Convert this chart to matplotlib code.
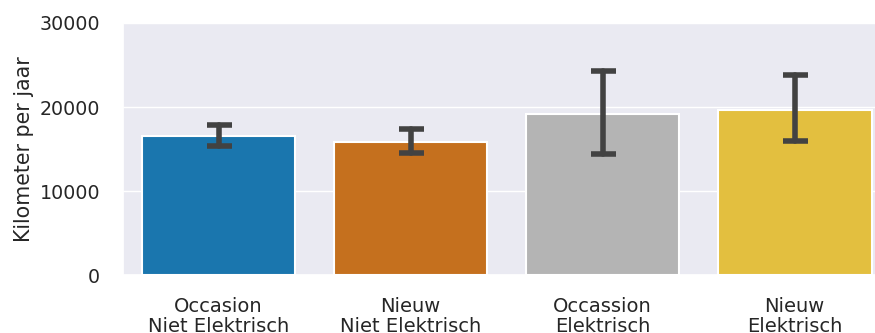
import matplotlib
matplotlib.use("Agg")
import matplotlib.pyplot as plt
import seaborn as sns

categories = ["Occasion\nNiet Elektrisch", "Nieuw\nNiet Elektrisch",
              "Occassion\nElektrisch", "Nieuw\nElektrisch"]
km_mean = [16500, 15800, 19200, 19700]
err_low = [15300, 14550, 14400, 15950]
err_high = [17900, 17350, 24300, 23750]
colors = ["#1a76ae", "#c5701e", "#b4b4b4", "#e3bf3f"]

sns.set_theme(style="darkgrid")
plt.rcParams['font.family'] = ['DejaVu Sans']

fig = plt.figure(figsize=(8.75, 3.33), dpi=100)
ax = fig.add_axes([0.140, 0.174, 0.878, 0.757])

x = list(range(len(categories)))
ax.bar(x, km_mean, width=0.8, color=colors, edgecolor="white", linewidth=1.5, zorder=2)

yerr = [[m - lo for m, lo in zip(km_mean, err_low)],
        [hi - m for m, hi in zip(km_mean, err_high)]]
eb = ax.errorbar(x, km_mean, yerr=yerr, fmt="none", ecolor="#424242",
                 elinewidth=4, capsize=9, capthick=4, zorder=3)
for line in eb[1]:
    line.set_solid_capstyle("round")
for col in eb[2]:
    col.set_capstyle("round")

ax.xaxis.grid(False)
ax.set_xlim(-0.5, 3.5)
ax.set_ylim(0, 30000)
ax.set_yticks([0, 10000, 20000, 30000])
ax.set_xticks(x)
ax.set_xticklabels(categories, fontsize=14, linespacing=1.05)
ax.tick_params(axis="x", pad=10)
ax.tick_params(axis="y", labelsize=13.7, pad=10)
ax.set_ylabel("Kilometer per jaar", fontsize=14.8, labelpad=4)

fig.savefig("out.png", dpi=100)
